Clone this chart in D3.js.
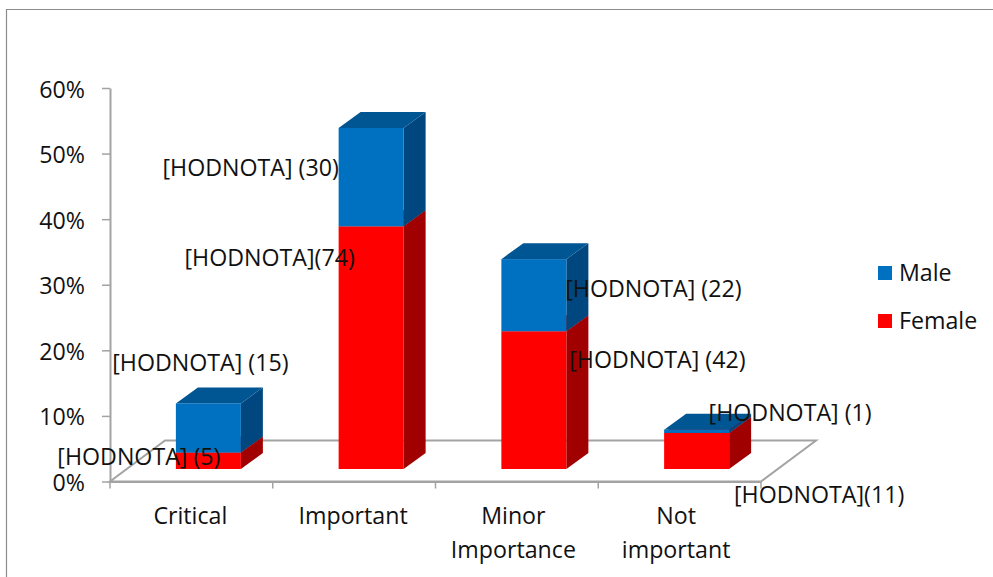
<!DOCTYPE html>
<html>
<head>
<meta charset="utf-8">
<script src="https://cdn.jsdelivr.net/npm/d3@7/dist/d3.min.js"></script>
<style>
html,body{margin:0;padding:0;background:#fff;}
svg{display:block;}
text{font-family:"Open Sans",sans-serif;fill:#111;}
</style>
</head>
<body>
<svg id="chart" width="993" height="577"></svg>
<script>
const categories = [["Critical"], ["Important"], ["Minor", "Importance"], ["Not", "important"]];
const categoryKeys = ["Critical", "Important", "Minor Importance", "Not important"];
const femalePercent = [2.5, 37, 21, 5.5];
const malePercent = [7.5, 15, 11, 0.5];
const femaleCounts = ["[HODNOTA] (5)", "[HODNOTA](74)", "[HODNOTA] (42)", "[HODNOTA](11)"];
const maleCounts = ["[HODNOTA] (15)", "[HODNOTA] (30)", "[HODNOTA] (22)", "[HODNOTA] (1)"];
const yTicks = [0, 10, 20, 30, 40, 50, 60];

// Hand placement of the data labels, relative to the middle of each segment.
const femaleLabelNudge = [[-69.5, 4], [-101.5, -82], [123.5, -32.5], [122.5, 52]];
const maleLabelNudge = [[-8, -57], [-120.5, -1], [119.5, 2], [93.5, -10.5]];

const svg = d3.select("#chart");
const FONT = 23.2;
const GREY = "#a3a3a3";

// Outer chart frame: only the top and left edges fall inside the canvas.
svg.append("path").attr("d", "M6.5,577V9.5H993").attr("fill", "none").attr("stroke", "#8c8c8c").attr("stroke-width", 1.2);

const x = d3.scaleBand().domain(categoryKeys).range([110, 761]);
const y = d3.scaleLinear().domain([0, 60]).range([481.5, 88]);

// Oblique depth of the floor and of the bars within it.
const floorDepth = { dx: 55, dy: -41 };
const barInset = { dx: 17, dy: -12.5 };
const barDepth = { dx: 22, dy: -16 };
const barWidth = 65;

// Floor parallelogram
const floorPts = [[110, y(0)], [761, y(0)], [761 + floorDepth.dx, y(0) + floorDepth.dy], [110 + floorDepth.dx, y(0) + floorDepth.dy]];
svg.append("path").attr("d", d3.line()(floorPts) + "Z").attr("fill", "#fff").attr("stroke", GREY).attr("stroke-width", 2);

// Value axis
const yAxis = svg.append("g").attr("transform", "translate(110,0)")
  .call(d3.axisLeft(y).tickValues(yTicks).tickFormat(d => d + "%").tickSize(8).tickSizeOuter(0).tickPadding(17));
yAxis.select(".domain").attr("stroke", GREY).attr("stroke-width", 2);
yAxis.selectAll(".tick line").attr("stroke", GREY).attr("stroke-width", 1.5);
yAxis.selectAll(".tick text").attr("font-size", FONT).attr("font-family", '"Open Sans",sans-serif').attr("fill", "#111").attr("dy", "0.39em");

// Category axis, labels wrapped onto up to two lines
const xAxis = svg.append("g").attr("transform", `translate(0,${y(0)})`)
  .call(d3.axisBottom(x).tickFormat("").tickSize(0).tickSizeOuter(0));
xAxis.select(".domain").attr("stroke", GREY).attr("stroke-width", 2);
const boundaries = categoryKeys.map(k => x(k)).concat([x.range()[1]]);
xAxis.selectAll("line.bound").data(boundaries).join("line").attr("class", "bound")
  .attr("x1", d => d).attr("x2", d => d).attr("y1", 0).attr("y2", 7)
  .attr("stroke", GREY).attr("stroke-width", 1.5);

svg.append("g").selectAll("text").data(categoryKeys).join("text")
  .attr("text-anchor", "middle").attr("font-size", FONT)
  .each(function (k, i) {
    d3.select(this).selectAll("tspan").data(categories[i]).join("tspan")
      .attr("x", x(k) + x.bandwidth() / 2 - 1 - (i > 1 ? 2.5 : 0))
      .attr("y", (d, j) => 524 + j * 33.5)
      .text(d => d);
  });

// Bars: each stacked segment is a front face plus side and top faces.
const barY = v => y(v) + barInset.dy;
const frontX = k => x(k) + x.bandwidth() / 2 - barWidth / 2 + barInset.dx;
const colors = {
  Female: { front: "#ff0000", side: "#a00000", top: "#c00000" },
  Male: { front: "#0070c0", side: "#00477f", top: "#005593" }
};
const line = d3.line();

function drawSegment(g, k, v0, v1, c) {
  const l = frontX(k), r = l + barWidth, b = barY(v0), t = barY(v1);
  const { dx, dy } = barDepth;
  g.append("path").attr("d", line([[r, b], [r + dx, b + dy], [r + dx, t + dy], [r, t]]) + "Z").attr("fill", c.side);
  g.append("path").attr("d", line([[l, t], [r, t], [r + dx, t + dy], [l + dx, t + dy]]) + "Z").attr("fill", c.top);
  g.append("rect").attr("x", l).attr("y", t).attr("width", barWidth).attr("height", b - t).attr("fill", c.front);
}

const bars = svg.append("g");
categoryKeys.forEach((k, i) => {
  const g = bars.append("g");
  drawSegment(g, k, 0, femalePercent[i], colors.Female);
  drawSegment(g, k, femalePercent[i], femalePercent[i] + malePercent[i], colors.Male);
});

// Data labels sit on top of the bars.
const labels = svg.append("g").attr("text-anchor", "middle").attr("font-size", FONT);
categoryKeys.forEach((k, i) => {
  const cx = frontX(k) + barWidth / 2;
  const fMid = barY(femalePercent[i] / 2);
  const mMid = barY(femalePercent[i] + malePercent[i] / 2);
  labels.append("text").attr("x", cx + femaleLabelNudge[i][0]).attr("y", fMid + femaleLabelNudge[i][1]).text(femaleCounts[i]);
  labels.append("text").attr("x", cx + maleLabelNudge[i][0]).attr("y", mMid + maleLabelNudge[i][1]).text(maleCounts[i]);
});

// Legend
const legendItems = [["Male", colors.Male.front, 273], ["Female", colors.Female.front, 321]];
const legend = svg.append("g");
legendItems.forEach(([name, color, cy]) => {
  legend.append("rect").attr("x", 878).attr("y", cy - 7).attr("width", 14).attr("height", 14).attr("fill", color);
  legend.append("text").attr("x", 899).attr("y", cy + 8).attr("font-size", FONT).text(name);
});
</script>
</body>
</html>
